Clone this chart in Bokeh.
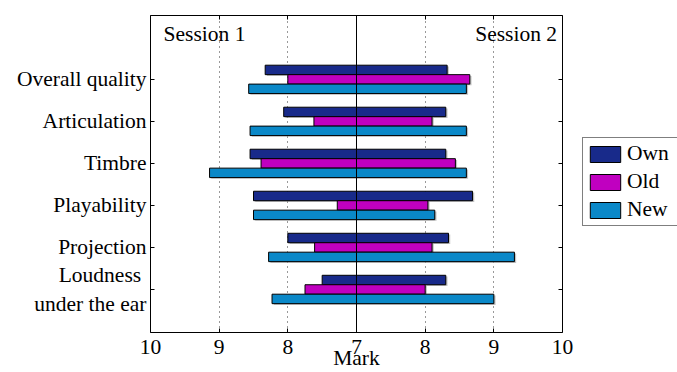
from bokeh.plotting import figure
from bokeh.layouts import row
from bokeh.models import (ColumnDataSource, Range1d, FixedTicker, LinearAxis, Span, Label,
                          Legend, LegendItem)
from bokeh.embed import file_html
from bokeh.resources import INLINE

categories = ["Overall quality", "Articulation", "Timbre", "Playability", "Projection",
              "Loudness \nunder the ear"]
cat_pos = [6, 5, 4, 3, 2, 1]
series = ["Own", "Old", "New"]
colors = ["#182a8a", "#c000c0", "#0a88c8"]
offsets = [0.225, 0.0, -0.225]

s1_own = [8.33, 8.06, 8.55, 8.50, 8.00, 7.50]
s1_old = [8.00, 7.62, 8.39, 7.28, 7.61, 7.75]
s1_new = [8.57, 8.55, 9.14, 8.50, 8.28, 8.23]
s2_own = [8.32, 8.30, 8.30, 8.69, 8.34, 8.30]
s2_old = [8.65, 8.10, 8.44, 8.04, 8.10, 8.00]
s2_new = [8.60, 8.60, 8.60, 8.14, 9.30, 9.00]

x_ticks = [-3, -2, -1, 0, 1, 2, 3]
x_tick_labels = ["10", "9", "8", "7", "8", "9", "10"]
center = 7.0

FONT = "Liberation Serif"
FS = "21.5px"

p = figure(width=575, height=372, output_backend="svg", toolbar_location=None,
           x_range=Range1d(-3, 3), y_range=Range1d(-0.024, 7.52),
           min_border_left=150, min_border_right=13, min_border_top=15, min_border_bottom=40)
p.ygrid.visible = False
p.outline_line_color = "black"
p.outline_line_width = 1
p.background_fill_color = "white"
p.border_fill_color = "white"

p.xgrid.ticker = FixedTicker(ticks=[-2, -1, 1, 2])
p.xgrid.grid_line_color = "#333333"
p.xgrid.grid_line_dash = "1 4"
p.xgrid.grid_line_width = 1

h = 0.225
s1 = [s1_own, s1_old, s1_new]
s2 = [s2_own, s2_old, s2_new]
for i, name in enumerate(series):
    ys = [c + offsets[i] for c in cat_pos]
    left1 = [-(v - center) for v in s1[i]]
    right2 = [v - center for v in s2[i]]
    zeros = [0] * len(ys)
    src1 = ColumnDataSource(dict(y=ys, left=left1, right=zeros))
    src2 = ColumnDataSource(dict(y=ys, left=zeros, right=right2))
    sh1 = ColumnDataSource(dict(y=[y - 0.03 for y in ys], left=[l + 0.025 for l in left1],
                                right=[0.025] * len(ys)))
    sh2 = ColumnDataSource(dict(y=[y - 0.03 for y in ys], left=[0.025] * len(ys),
                                right=[r + 0.025 for r in right2]))
    for sh in (sh1, sh2):
        p.hbar(y="y", left="left", right="right", height=h, source=sh,
               fill_color="#999999", fill_alpha=0.6, line_color=None)
    p.hbar(y="y", left="left", right="right", height=h, source=src1,
           fill_color=colors[i], line_color="black", line_width=1)
    p.hbar(y="y", left="left", right="right", height=h, source=src2,
           fill_color=colors[i], line_color="black", line_width=1)

p.add_layout(Span(location=0, dimension="height", line_color="black", line_width=1))

xa = p.xaxis[0]
xa.ticker = FixedTicker(ticks=x_ticks)
xa.major_label_overrides = {t: l for t, l in zip(x_ticks, x_tick_labels)}
xa.major_tick_in = 4
xa.major_tick_out = 0
xa.minor_tick_line_color = None
xa.axis_line_color = None
xa.major_label_standoff = 7
xa.major_label_text_font = FONT
xa.major_label_text_font_size = FS
xa.major_label_text_color = "black"
xa.axis_label = "Mark"
xa.axis_label_standoff = -11
xa.axis_label_text_font = FONT
xa.axis_label_text_font_size = FS
xa.axis_label_text_font_style = "normal"
xa.axis_label_text_color = "black"

ya = p.yaxis[0]
ya.ticker = FixedTicker(ticks=cat_pos)
ya.major_label_overrides = {c: l for c, l in zip(cat_pos, categories)}
ya.major_tick_in = 4
ya.major_tick_out = 0
ya.minor_tick_line_color = None
ya.axis_line_color = None
ya.major_label_standoff = 4
ya.major_label_text_font = FONT
ya.major_label_text_font_size = FS
ya.major_label_text_color = "black"

top = LinearAxis(ticker=FixedTicker(ticks=x_ticks), major_tick_in=4, major_tick_out=0,
                 minor_tick_line_color=None, axis_line_color=None,
                 major_label_text_font_size="1px", major_label_text_color=None,
                 major_label_standoff=0)
right = LinearAxis(ticker=FixedTicker(ticks=cat_pos), major_tick_in=4, major_tick_out=0,
                   minor_tick_line_color=None, axis_line_color=None,
                   major_label_text_font_size="1px", major_label_text_color=None,
                   major_label_standoff=0)
p.add_layout(top, "above")
p.add_layout(right, "right")

p.add_layout(Label(x=-2.81, y=7.08, text="Session 1", text_font=FONT, text_font_size=FS,
                   text_align="left", text_baseline="alphabetic", text_color="black"))
p.add_layout(Label(x=2.92, y=7.08, text="Session 2", text_font=FONT, text_font_size=FS,
                   text_align="right", text_baseline="alphabetic", text_color="black"))

# legend panel
q = figure(width=102, height=372, output_backend="svg", toolbar_location=None,
           x_range=Range1d(0, 1), y_range=Range1d(0, 1),
           min_border_left=0, min_border_right=0, min_border_top=0, min_border_bottom=0)
q.axis.visible = False
q.grid.visible = False
q.outline_line_color = None
q.border_fill_color = "white"
items = []
for i, name in enumerate(series):
    src = ColumnDataSource(dict(y=[5], left=[5], right=[6]))
    r = q.hbar(y="y", left="left", right="right", height=0.1, source=src,
               fill_color=colors[i], line_color="black", line_width=1)
    items.append(LegendItem(label=name, renderers=[r]))
legend = Legend(items=items, location=(7, 106), orientation="vertical",
                glyph_width=38, glyph_height=20, label_height=20, label_width=62,
                spacing=3, padding=3, margin=0, label_standoff=3,
                label_text_font=FONT, label_text_font_size=FS, label_text_color="black",
                border_line_color="black", border_line_width=1,
                background_fill_color="white", background_fill_alpha=1)
q.add_layout(legend)

layout = row(p, q, spacing=0)
open("out.html", "w").write(file_html(layout, INLINE))
